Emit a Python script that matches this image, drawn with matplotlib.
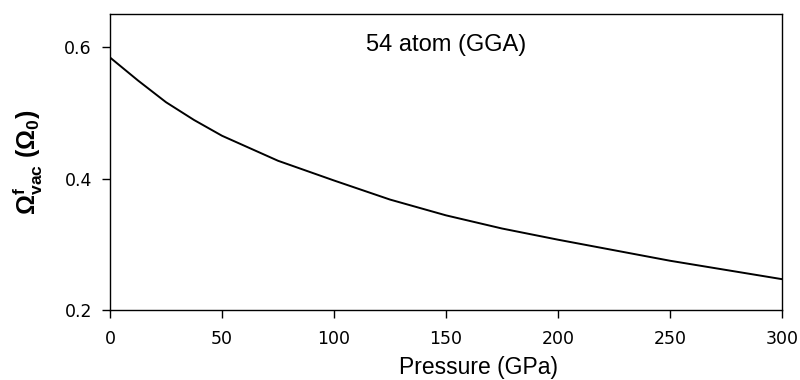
import matplotlib
matplotlib.use("Agg")
import matplotlib.pyplot as plt

pressure = [0, 12.5, 25, 37.5, 50, 75, 100, 125, 150, 175, 200, 225, 250, 275, 300]
omega = [0.584, 0.549, 0.516, 0.489, 0.465, 0.427, 0.397, 0.368, 0.344, 0.324, 0.307, 0.291, 0.275, 0.261, 0.247]
xticks = [0, 50, 100, 150, 200, 250, 300]
yticks = [0.2, 0.4, 0.6]

plt.rcParams['font.family'] = ['Liberation Sans', 'DejaVu Sans']
plt.rcParams['mathtext.fontset'] = 'custom'
plt.rcParams['mathtext.rm'] = 'Liberation Sans'
plt.rcParams['mathtext.bf'] = 'Liberation Sans:bold'
plt.rcParams['mathtext.it'] = 'Liberation Sans:italic'

fig = plt.figure(figsize=(8, 3.8), dpi=100)
ax = fig.add_axes([0.1375, 0.184, 0.84, 0.779])
ax.plot(pressure, omega, color='black', lw=1.4)
ax.set_xlim(0, 300)
ax.set_ylim(0.2, 0.65)
ax.set_xticks(xticks)
ax.set_xticklabels([str(t) for t in xticks])
ax.set_yticks(yticks)
ax.set_yticklabels([f"{t:.1f}" for t in yticks])
ax.tick_params(direction='out', length=6, width=1, colors='black')
ax.tick_params(axis='x', pad=8)
ax.tick_params(axis='y', pad=7)
for lab in ax.get_xticklabels() + ax.get_yticklabels():
    lab.set_fontfamily('DejaVu Sans')
    lab.set_fontsize(12.5)
for s in ax.spines.values():
    s.set_linewidth(1.0)
ax.set_xlabel('Pressure (GPa)', fontsize=16.5)
ax.xaxis.set_label_coords(0.548, -0.155)
ax.set_ylabel(r'$\mathbf{\Omega^f_{vac}\ (\Omega_0)}$', fontsize=18, labelpad=14)
ax.text(0.5, 0.897, '54 atom (GGA)', transform=ax.transAxes, ha='center', va='center', fontsize=17)
fig.savefig('out.png', dpi=100)
